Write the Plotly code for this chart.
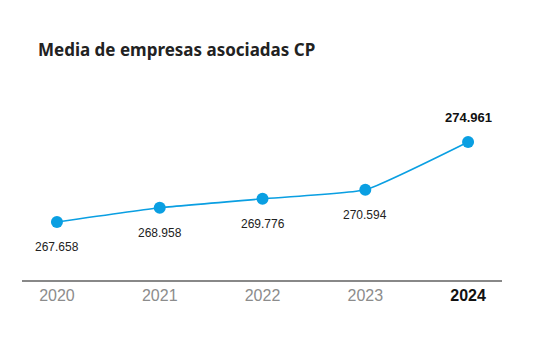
import plotly.graph_objects as go

years = ["2020", "2021", "2022", "2023", "2024"]
values = [267.658, 268.958, 269.776, 270.594, 274.961]
labels = ["267.658", "268.958", "269.776", "270.594", "274.961"]
tick_text = ["2020", "2021", "2022", "2023", "<span style='color:#111111'><b>2024</b></span>"]

BLUE = "#0a9fe2"

fig = go.Figure()
fig.add_trace(go.Scatter(
    x=years, y=values, mode="lines+markers",
    line=dict(color=BLUE, width=1.6, shape="spline", smoothing=0.4),
    marker=dict(color=BLUE, size=12),
    hoverinfo="skip", showlegend=False,
))

for i, (v, lab) in enumerate(zip(values, labels)):
    last = i == len(years) - 1
    fig.add_annotation(
        x=i, y=v, xref="x", yref="y",
        text=f"<b>{lab}</b>" if last else lab,
        showarrow=False, yshift=25 if last else -25,
        font=dict(family="Liberation Sans, Arial, sans-serif", size=13 if last else 12,
                  color="#111111" if last else "#222222"),
    )

fig.update_layout(
    width=540, height=357,
    margin=dict(l=22, r=38, t=100, b=77),
    paper_bgcolor="white", plot_bgcolor="white",
    title=dict(
        text="<b>Media de empresas asociadas CP</b>",
        x=38 / 540, xanchor="left", xref="container",
        y=1 - 50 / 357, yanchor="middle", yref="container",
        font=dict(family="Noto Sans, Open Sans, sans-serif", size=17, color="#222222"),
    ),
    xaxis=dict(
        type="category", range=[-0.34, 4.33],
        tickvals=years, ticktext=tick_text,
        showgrid=False, zeroline=False,
        showline=True, linecolor="#888888", linewidth=2,
        ticks="", ticklabelstandoff=0,
        tickfont=dict(family="Liberation Sans, Arial, sans-serif", size=16, color="#8c8c8c"),
    ),
    yaxis=dict(range=[262.36, 278.80], showticklabels=False, showline=False,
               showgrid=False, zeroline=False, ticks=""),
)

fig.write_html("out.html", config={"displayModeBar": False},
               post_script="document.body.style.margin='0';")
